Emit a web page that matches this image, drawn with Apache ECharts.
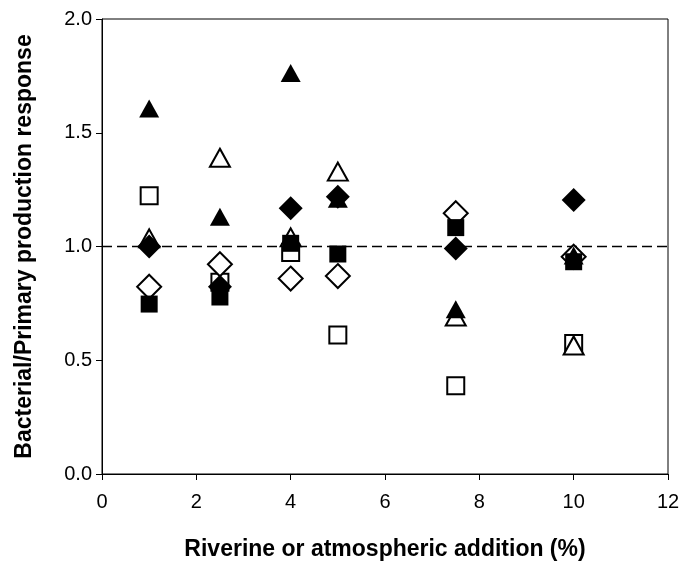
<!DOCTYPE html>
<html><head><meta charset="utf-8">
<script src="https://cdn.jsdelivr.net/npm/echarts@6/dist/echarts.min.js"></script>
<style>html,body{margin:0;padding:0;background:#fff}#c{width:687px;height:571px}</style>
</head><body><div id="c"></div>
<script>
var xValues = [1, 2.5, 4, 5, 7.5, 10];
var filledTriangle = [1.607, 1.131, 1.763, 1.21, 0.724, 0.96];
var openTriangle   = [1.036, 1.39, 1.04, 1.329, 0.692, 0.565];
var filledSquare   = [0.747, 0.778, 1.014, 0.967, 1.083, 0.933];
var openSquare     = [1.223, 0.843, 0.974, 0.611, 0.388, 0.574];
var filledDiamond  = [1.0, 0.823, 1.168, 1.219, 0.991, 1.204];
var openDiamond    = [0.823, 0.922, 0.859, 0.870, 1.146, 0.955];
var referenceLevel = 1.0;
var xTitle = 'Riverine or atmospheric addition (%)';
var yTitle = 'Bacterial/Primary production response';

function pts(arr){ return xValues.map(function(x,i){ return [x, arr[i]]; }); }
function ser(name, arr, symbol, size, filled, z){
  return {name:name, type:'scatter', data:pts(arr), symbol:symbol, symbolSize:size, z:z,
    itemStyle: filled ? {color:'#000', borderColor:'#000', borderWidth:0, opacity:1}
                      : {color:'#fff', borderColor:'#000', borderWidth:2, opacity:1},
    emphasis:{disabled:true}};
}
var chart = echarts.init(document.getElementById('c'), null, {renderer:'canvas'});
var font = 'Liberation Sans, Arial, sans-serif';
chart.setOption({
  animation:false,
  backgroundColor:'#fff',
  grid:{left:102, right:19, top:19, bottom:97, show:true, borderColor:'#000', borderWidth:1, backgroundColor:'transparent'},
  xAxis:{type:'value', min:0, max:12, interval:2,
    axisLine:{show:true, onZero:false, lineStyle:{color:'#000', width:1}},
    axisTick:{show:true, inside:false, length:6, lineStyle:{color:'#000'}},
    axisLabel:{color:'#000', fontSize:20, fontFamily:font, margin:18},
    splitLine:{show:false},
    name:xTitle, nameLocation:'middle', nameGap:64,
    nameTextStyle:{color:'#000', fontSize:23, fontWeight:'bold', fontFamily:font}},
  yAxis:{type:'value', min:0, max:2, interval:0.5,
    axisLine:{show:true, lineStyle:{color:'#000', width:1}},
    axisTick:{show:true, inside:false, length:6, lineStyle:{color:'#000'}},
    axisLabel:{color:'#000', fontSize:20, fontFamily:font, margin:10, formatter:function(v){return v.toFixed(1);}},
    splitLine:{show:false},
    name:yTitle, nameLocation:'middle', nameGap:66,
    nameTextStyle:{color:'#000', fontSize:23, fontWeight:'bold', fontFamily:font}},
  series:[
    {type:'line', data:[[0,referenceLevel],[12,referenceLevel]], symbol:'none', z:1,
     lineStyle:{color:'#000', width:1.5, type:[10,5]}, silent:true},
    ser('openSquare', openSquare, 'rect', 17, false, 2),
    ser('openTriangle', openTriangle, 'triangle', [20,18], false, 3),
    ser('openDiamond', openDiamond, 'diamond', [24,24], false, 4),
    ser('filledSquare', filledSquare, 'rect', 17, true, 5),
    ser('filledTriangle', filledTriangle, 'triangle', [20,18], true, 6),
    ser('filledDiamond', filledDiamond, 'diamond', [24,24], true, 7)
  ]
});
</script></body></html>
